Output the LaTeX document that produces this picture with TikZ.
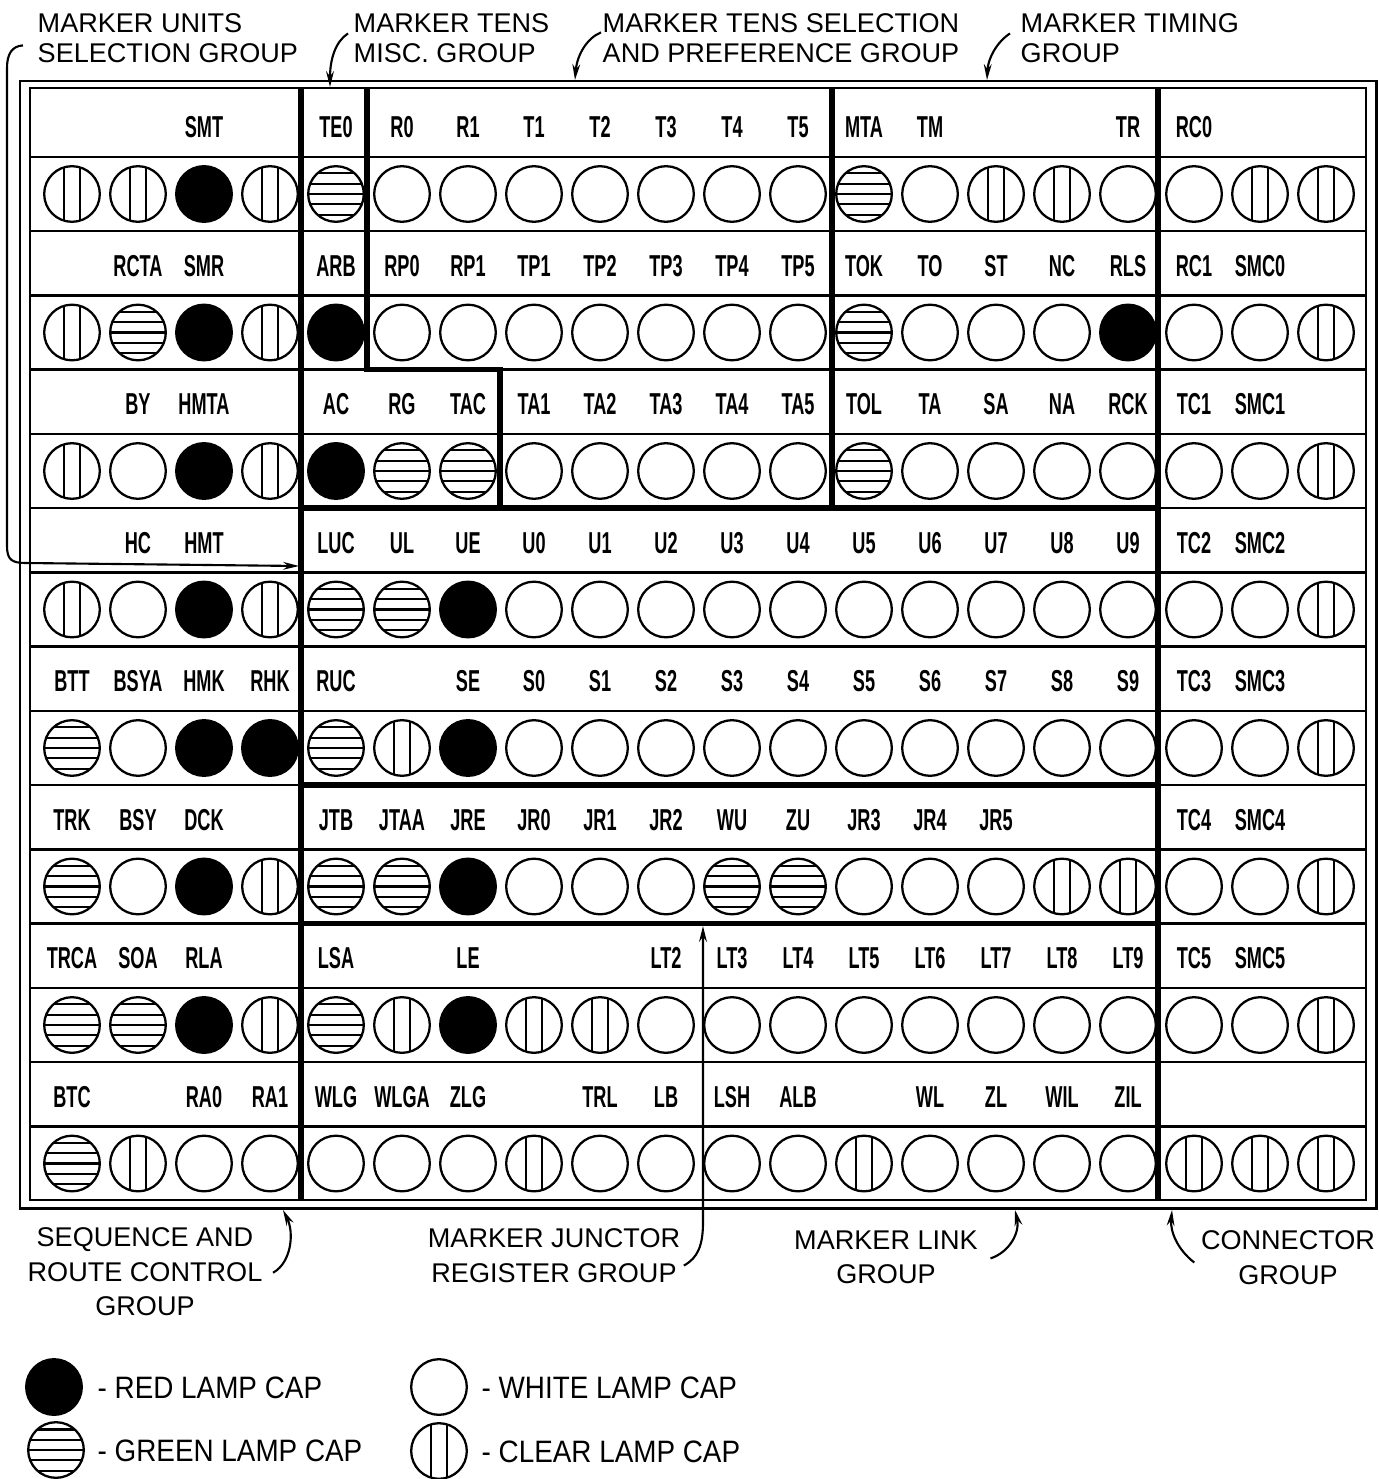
\documentclass[tikz,border=0pt]{standalone}
\usepackage{fontspec}
\setmainfont{Liberation Sans}
\newfontfamily\tagfont[FakeStretch=0.6]{Liberation Sans Bold}
\newfontfamily\keyfont[FakeStretch=0.9]{Liberation Sans}
\usetikzlibrary{arrows.meta,calc}

\begin{document}
\begin{tikzpicture}[x=0.01cm,y=-0.01cm,>={Stealth[length=4.5pt,width=2.2pt]},
  lamp/.style={circle,draw,line width=0.65pt,minimum size=0.556cm,inner sep=0pt},
  Wh/.style={},
  Rd/.style={fill=black},
  Gr/.style={path picture={\foreach \f in {-0.74,-0.37,0,0.37,0.74}
      \draw[line width=0.6pt] ($(path picture bounding box.center)+(-30,\f*27.8)$) -- ++(60,0);}},
  Cl/.style={path picture={\foreach \f in {-0.28,0.28}
      \draw[line width=0.6pt] ($(path picture bounding box.center)+(\f*27.8,-30)$) -- ++(0,60);}},
  tag/.style={font=\tagfont\fontsize{8.6}{10}\selectfont,inner sep=0pt,text height=6.2pt,text depth=0pt},
  grp/.style={font=\fontsize{7.7}{8.6}\selectfont,inner sep=0pt,align=left,anchor=north west},
  grpb/.style={font=\fontsize{7.7}{9.8}\selectfont,inner sep=0pt,align=center,anchor=north},
  key/.style={font=\keyfont\fontsize{8.8}{10}\selectfont,inner sep=0pt,text height=6.3pt,text depth=0pt,anchor=west},
  lead/.style={line width=0.6pt,->},
  sep/.style={line width=1.5pt}]
  \useasboundingbox (0,0) rectangle (1379,1479);

  % panel frame and row rules
  \draw[line width=0.85pt] (20,81) rectangle (1376,1208);
  \draw[line width=0.6pt] (30,88) rectangle (1366,1200);
  \foreach \k in {0,...,7}
    \draw[line width=0.6pt] (30,157+138.5*\k) -- (1366,157+138.5*\k);
  \foreach \k in {0,...,6}
    \draw[line width=0.6pt] (30,231+138.5*\k) -- (1366,231+138.5*\k);

  % group borders
  \draw[sep] (301,88) -- (301,1200);
  \draw[sep] (367,88) -- (367,369.5) -- (500,369.5) -- (500,508);
  \draw[sep] (832,88) -- (832,508);
  \draw[sep] (1158,88) -- (1158,1200);
  \draw[sep] (301,508) -- (1158,508);
  \draw[sep] (301,785) -- (1158,785);
  \draw[sep] (301,923.5) -- (1158,923.5);

  % lamp designations, row by row
  \foreach \k/\tags in {
    0/{2/SMT,4/TE0,5/R0,6/R1,7/T1,8/T2,9/T3,10/T4,11/T5,12/MTA,13/TM,16/TR,17/RC0},
    1/{1/RCTA,2/SMR,4/ARB,5/RP0,6/RP1,7/TP1,8/TP2,9/TP3,10/TP4,11/TP5,12/TOK,13/TO,14/ST,15/NC,16/RLS,17/RC1,18/SMC0},
    2/{1/BY,2/HMTA,4/AC,5/RG,6/TAC,7/TA1,8/TA2,9/TA3,10/TA4,11/TA5,12/TOL,13/TA,14/SA,15/NA,16/RCK,17/TC1,18/SMC1},
    3/{1/HC,2/HMT,4/LUC,5/UL,6/UE,7/U0,8/U1,9/U2,10/U3,11/U4,12/U5,13/U6,14/U7,15/U8,16/U9,17/TC2,18/SMC2},
    4/{0/BTT,1/BSYA,2/HMK,3/RHK,4/RUC,6/SE,7/S0,8/S1,9/S2,10/S3,11/S4,12/S5,13/S6,14/S7,15/S8,16/S9,17/TC3,18/SMC3},
    5/{0/TRK,1/BSY,2/DCK,4/JTB,5/JTAA,6/JRE,7/JR0,8/JR1,9/JR2,10/WU,11/ZU,12/JR3,13/JR4,14/JR5,17/TC4,18/SMC4},
    6/{0/TRCA,1/SOA,2/RLA,4/LSA,6/LE,9/LT2,10/LT3,11/LT4,12/LT5,13/LT6,14/LT7,15/LT8,16/LT9,17/TC5,18/SMC5},
    7/{0/BTC,2/RA0,3/RA1,4/WLG,5/WLGA,6/ZLG,8/TRL,9/LB,10/LSH,11/ALB,13/WL,14/ZL,15/WIL,16/ZIL}}
    \foreach \i/\lb in \tags
      \node[tag] (t\k-\i) at (72+66*\i,127+138.5*\k) {\lb};

  % lamp caps, row by row
  \foreach \k/\caps in {
    0/{Cl,Cl,Rd,Cl,Gr,Wh,Wh,Wh,Wh,Wh,Wh,Wh,Gr,Wh,Cl,Cl,Wh,Wh,Cl,Cl},
    1/{Cl,Gr,Rd,Cl,Rd,Wh,Wh,Wh,Wh,Wh,Wh,Wh,Gr,Wh,Wh,Wh,Rd,Wh,Wh,Cl},
    2/{Cl,Wh,Rd,Cl,Rd,Gr,Gr,Wh,Wh,Wh,Wh,Wh,Gr,Wh,Wh,Wh,Wh,Wh,Wh,Cl},
    3/{Cl,Wh,Rd,Cl,Gr,Gr,Rd,Wh,Wh,Wh,Wh,Wh,Wh,Wh,Wh,Wh,Wh,Wh,Wh,Cl},
    4/{Gr,Wh,Rd,Rd,Gr,Cl,Rd,Wh,Wh,Wh,Wh,Wh,Wh,Wh,Wh,Wh,Wh,Wh,Wh,Cl},
    5/{Gr,Wh,Rd,Cl,Gr,Gr,Rd,Wh,Wh,Wh,Gr,Gr,Wh,Wh,Wh,Cl,Cl,Wh,Wh,Cl},
    6/{Gr,Gr,Rd,Cl,Gr,Cl,Rd,Cl,Cl,Wh,Wh,Wh,Wh,Wh,Wh,Wh,Wh,Wh,Wh,Cl},
    7/{Gr,Cl,Wh,Wh,Wh,Wh,Wh,Cl,Wh,Wh,Wh,Wh,Cl,Wh,Wh,Wh,Wh,Cl,Cl,Cl}}
    \foreach \cp [count=\i from 0] in \caps
      \node[lamp,\cp] (p\k-\i) at (72+66*\i,194+138.5*\k) {};

  % group names
  \node[grp] (units) at (37,13) {MARKER UNITS\\SELECTION GROUP};
  \node[grp] (misc) at (353,13) {MARKER TENS\\MISC. GROUP};
  \node[grp] (tsel) at (602,13) {MARKER TENS SELECTION\\AND PREFERENCE GROUP};
  \node[grp] (timing) at (1020,13) {MARKER TIMING\\GROUP};
  \node[grpb] (seq) at (145,1227) {SEQUENCE AND\\ROUTE CONTROL\\GROUP};
  \node[grpb] (junc) at (554,1228) {MARKER JUNCTOR\\REGISTER GROUP};
  \node[grpb] (link) at (886,1230) {MARKER LINK\\GROUP};
  \node[grpb] (conn) at (1288,1230) {CONNECTOR\\GROUP};

  % leaders
  \coordinate (unitsTip) at (299,566);
  \coordinate (miscTip) at (330,87);
  \coordinate (tselTip) at (575,80);
  \coordinate (timingTip) at (987,80);
  \coordinate (seqTip) at (283,1210);
  \coordinate (juncTip) at (703,926);
  \coordinate (linkTip) at (1015,1210);
  \coordinate (connTip) at (1172,1210);
  \draw[lead] ($(units.west)+(-14,7)$) .. controls (12,46) and (7,54) .. (7,68)
    -- (7,546) .. controls (7,560) and (12,563) .. (26,563) -- (unitsTip);
  \draw[lead] ($(misc.west)+(-5,-5)$) .. controls (335,42) and (330,60) .. (miscTip);
  \draw[lead] ($(tsel.west)+(-1,-6)$) .. controls (587,38) and (577,55) .. (tselTip);
  \draw[lead] ($(timing.west)+(-10,-5)$) .. controls (997,42) and (988,58) .. (timingTip);
  \draw[lead] ($(seq.east)+(10,1)$) .. controls (292,1262) and (294,1232) .. (seqTip);
  \draw[lead] ($(junc.east)+(3,10)$) .. controls (698,1258) and (703,1245) .. (703,1222) -- (juncTip);
  \draw[lead] ($(link.east)+(12,1)$) .. controls (1010,1252) and (1020,1232) .. (linkTip);
  \draw[lead] ($(conn.west)+(-6,5)$) .. controls (1178,1250) and (1170,1232) .. (connTip);

  % key
  \node[lamp,Rd] (keyR) at (54,1387) {};
  \node[lamp,Gr] (keyG) at (56,1450) {};
  \node[lamp,Wh] (keyW) at (439,1387) {};
  \node[lamp,Cl] (keyC) at (439,1451) {};
  \node[key] (keyRt) at (97,1387) {- RED LAMP CAP};
  \node[key] (keyGt) at (97,1450) {- GREEN LAMP CAP};
  \node[key] (keyWt) at (481,1387) {- WHITE LAMP CAP};
  \node[key] (keyCt) at (481,1451) {- CLEAR LAMP CAP};
\end{tikzpicture}
\end{document}
